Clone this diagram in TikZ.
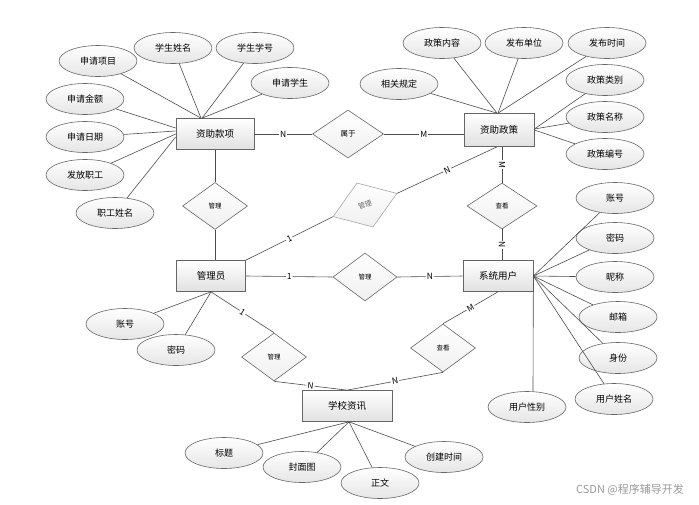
\documentclass[tikz,border=0pt]{standalone}
\usepackage{fontspec}
\setmainfont{Noto Sans CJK SC}
\usetikzlibrary{shapes.geometric}
\tikzset{
	x=1pt, y=-1pt, % one unit is one pixel of the picture, y runs downwards
	every edge/.style={draw=black!70, line width=0.6pt}, % the connectors
	entity/.style={rectangle, draw=black!60, line width=0.7pt, top color=white, bottom color=black!12, minimum width=70pt, minimum height=31pt, inner sep=0pt, font=\fontsize{9.5}{11}\selectfont}, % entity sets
	attr/.style={ellipse, draw=black!60, line width=0.6pt, top color=white, bottom color=black!10, minimum width=78pt, minimum height=31pt, inner sep=0pt, font=\fontsize{9}{11}\selectfont}, % attributes
	rel/.style={diamond, draw=black!60, line width=0.6pt, top color=white, bottom color=black!6, minimum width=65pt, minimum height=47pt, inner sep=0pt, font=\fontsize{6.5}{8}\selectfont}, % relationships
	card/.style={fill=white, inner sep=1pt, sloped, font=\fontsize{8.5}{10}\selectfont}, % the 1, N, M on the lines
}

\begin{document}
\begin{tikzpicture}
	\useasboundingbox (0,0) rectangle (699,504);
			% entities
			\node[entity, minimum width=78pt] at (215,134) (zzkx) {资助款项};
			\node[entity, minimum height=33pt] at (499,130) (zzzc) {资助政策};
			\node[entity, minimum width=69pt] at (211,276) (gly) {管理员};
			\node[entity] at (498,276) (xtyh) {系统用户};
			\node[entity, minimum width=90pt] at (347,406) (xxzx) {学校资讯};
			% relationships
			\node[rel, minimum width=71pt, minimum height=48pt, font=\fontsize{7.5}{9}\selectfont] at (348,134) (sy) {属于};
			\node[rel] at (215,206) (gl1) {管理};
			\node[rel, minimum width=68pt, draw=black!35, text=black!60, font=\fontsize{7}{8}\selectfont, rotate=20] at (365,205) (glg) {管理};
			\node[rel, minimum width=70pt, minimum height=46pt] at (502,206) (ck1) {查看};
			\node[rel, minimum width=64pt, minimum height=48pt] at (365,277) (gl2) {管理};
			\node[rel, minimum height=48pt] at (443,348) (ck2) {查看};
			\node[rel, minimum height=48pt] at (274,357) (gl3) {管理};
			% attributes of 资助款项
			\node[attr] at (98,61) (sqxm) {申请项目};
			\node[attr] at (173,48) (xsxm) {学生姓名};
			\node[attr] at (255,48) (xsxh) {学生学号};
			\node[attr] at (290,83) (sqxs) {申请学生};
			\node[attr] at (85,99) (sqje) {申请金额};
			\node[attr] at (85,137) (sqrq) {申请日期};
			\node[attr] at (85,175) (ffzg) {发放职工};
			\node[attr] at (115,213) (zgxm) {职工姓名};
			% attributes of 资助政策
			\node[attr] at (442,43) (zcnr) {政策内容};
			\node[attr] at (524,43) (fbdw) {发布单位};
			\node[attr] at (607,43) (fbsj) {发布时间};
			\node[attr] at (399,84) (xggd) {相关规定};
			\node[attr] at (605,80) (zclb) {政策类别};
			\node[attr] at (605,117) (zcmc) {政策名称};
			\node[attr] at (605,154) (zcbh) {政策编号};
			% attributes of 系统用户
			\node[attr] at (615,198) (zh2) {账号};
			\node[attr] at (615,238) (mm2) {密码};
			\node[attr] at (615,277) (nc) {昵称};
			\node[attr] at (618,317) (yx) {邮箱};
			\node[attr] at (618,358) (sf) {身份};
			\node[attr] at (614,399) (yhxm) {用户姓名};
			\node[attr] at (527,407) (yhxb) {用户性别};
			% attributes of 管理员 and 学校资讯
			\node[attr] at (125,324) (zh1) {账号};
			\node[attr] at (176,350) (mm1) {密码};
			\node[attr] at (224,453) (bt) {标题};
			\node[attr] at (302,467) (fmt) {封面图};
			\node[attr] at (380,483) (zw) {正文};
			\node[attr] at (444,457) (cjsj) {创建时间};
			\node[text=black!40, font=\fontsize{11}{12}\selectfont] at (630,490) (wm) {CSDN @程序辅导开发};
	\draw 	(sqxm) edge ([xshift=-14pt]zzkx.north)
			(xsxm) edge ([xshift=-14pt]zzkx.north)
			(xsxh) edge ([xshift=-13pt]zzkx.north)
			(sqxs) edge ([xshift=-13pt]zzkx.north)
			(sqje) edge ([yshift=6pt]zzkx.west)
			(sqrq) edge ([yshift=3pt]zzkx.west)
			(ffzg) edge (zzkx.west)
			(zgxm) edge ([yshift=-3pt]zzkx.west)
			(zcnr) edge ([xshift=-2pt]zzzc.north)
			(fbdw) edge ([xshift=-1pt]zzzc.north)
			(fbsj) edge ([xshift=-1pt]zzzc.north)
			(xggd) edge ([xshift=-2pt]zzzc.north)
			(zclb) edge ([yshift=1pt]zzzc.east)
			(zcmc) edge ([yshift=1pt]zzzc.east)
			(zcbh) edge (zzzc.east)
			(zh2) edge (xtyh.east)
			(mm2) edge (xtyh.east)
			(nc) edge (xtyh.east)
			(yx) edge (xtyh.east)
			(sf) edge (xtyh.east)
			(yhxm) edge (xtyh.east)
			(xtyh.east) edge ([xshift=6pt]yhxb.north)
			(zh1) edge (gly.south)
			(mm1) edge (gly.south)
			(bt) edge ([xshift=2pt]xxzx.south)
			(fmt) edge ([xshift=2pt]xxzx.south)
			(zw) edge ([xshift=2pt]xxzx.south)
			(cjsj) edge ([xshift=2pt]xxzx.south);
	\draw 	(zzkx.east) edge node[card]{N} (sy.west)
			(sy.east) edge node[card]{M} (sy.east -| zzzc.west)
			(zzkx.south) edge (gl1.north)
			(gl1.south) edge (gl1.south |- gly.north)
			(gly.north east) edge node[card]{1} (glg.west)
			(glg.east) edge node[card]{N} ([xshift=-2pt]zzzc.south)
			(ck1.north |- zzzc.south) edge node[card]{M} (ck1.north)
			(ck1.south) edge node[card]{N} (ck1.south |- xtyh.north)
			(gly.east) edge node[card]{1} (gl2.west)
			(gl2.east) edge node[card]{N} (xtyh.west)
			(xtyh.south) edge node[card]{M} (ck2.north)
			(ck2.south) edge node[card]{N} (xxzx.north)
			(gly.south) edge node[card]{1} (gl3.north)
			(gl3.south) edge node[card]{N} (xxzx.north);
\end{tikzpicture}
\end{document}
